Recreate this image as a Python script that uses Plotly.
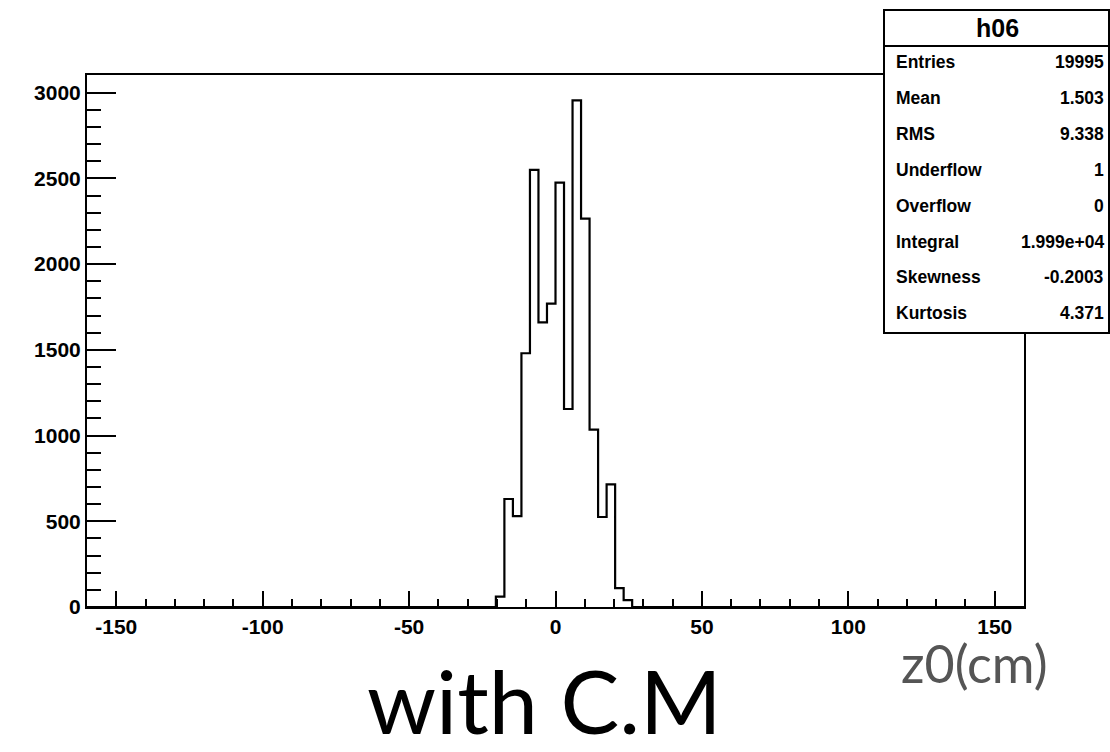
import plotly.graph_objects as go

# ---------------- data ----------------
XMIN, XMAX, NBINS = -160.0, 160.0, 110
FIRST_BIN = 48  # index of first non-empty bin
counts = [60, 630, 530, 1480, 2550, 1660, 1770, 2475, 1155, 2955, 2265, 1035, 525, 715, 110, 40]
YMAX = 3103

x_tickvals = [-150, -100, -50, 0, 50, 100, 150]
y_tickvals = [0, 500, 1000, 1500, 2000, 2500, 3000]

hist_name = "h06"
stats_labels = ["Entries", "Mean", "RMS", "Underflow", "Overflow", "Integral", "Skewness", "Kurtosis"]
stats_values = ["19995", "1.503", "9.338", "1", "0", "1.999e+04", "-0.2003", "4.371"]

x_title = "z0(cm)"
caption = "with C.M"

# ---------------- geometry helpers ----------------
W, H = 1110, 752
ML, MR, MT, MB = 87, 86, 75, 145
PW, PH = W - ML - MR, H - MT - MB


def px(X):
    return (X - ML) / PW


def py(Y):
    return (H - MB - Y) / PH


bw = (XMAX - XMIN) / NBINS
edges = [XMIN + (FIRST_BIN + i) * bw for i in range(len(counts) + 1)]
xs = [XMIN] + edges + [XMAX]
ys = [0] + counts + [0, 0]

fig = go.Figure()
fig.add_trace(go.Scatter(
    x=xs, y=ys, mode="lines", line=dict(color="black", width=2.2, shape="hv"),
    hoverinfo="skip", showlegend=False, cliponaxis=True,
))

tickfont = dict(family="Liberation Sans", size=21, color="black", weight="bold")

fig.update_xaxes(
    range=[XMIN, XMAX], showgrid=False, zeroline=False,
    showline=True, linecolor="black", linewidth=2, mirror=True,
    ticks="inside", ticklen=16, tickwidth=2, tickcolor="black",
    tickvals=x_tickvals, ticktext=[str(v) for v in x_tickvals],
    tickfont=tickfont,
    minor=dict(dtick=10, tick0=0, ticks="inside", ticklen=8, tickwidth=2, tickcolor="black", showgrid=False),
)
fig.update_yaxes(
    range=[0, YMAX], showgrid=False, zeroline=False,
    showline=True, linecolor="black", linewidth=2, mirror=True,
    ticks="inside", ticklen=29, tickwidth=2, tickcolor="black",
    tickvals=y_tickvals, ticktext=[str(v) for v in y_tickvals],
    tickfont=tickfont,
    minor=dict(dtick=100, tick0=0, ticks="inside", ticklen=14, tickwidth=2, tickcolor="black", showgrid=False),
)

shapes = [
    dict(type="rect", xref="paper", yref="paper", x0=px(884), x1=px(1109), y0=py(333), y1=py(10),
         fillcolor="white", line=dict(color="black", width=2), layer="above"),
    dict(type="line", xref="paper", yref="paper", x0=px(884), x1=px(1109), y0=py(46), y1=py(46),
         line=dict(color="black", width=2), layer="above"),
]

annotations = [
    dict(text=hist_name, xref="paper", yref="paper", x=px(997), y=py(28), showarrow=False,
         xanchor="center", yanchor="middle",
         font=dict(family="Liberation Sans", size=25, color="black", weight="bold")),
]
for i, (lab, val) in enumerate(zip(stats_labels, stats_values)):
    yy = py(62 + 35.9 * i)
    annotations.append(dict(text=lab, xref="paper", yref="paper", x=px(894), y=yy, showarrow=False,
                            xanchor="left", yanchor="middle",
                            font=dict(family="Liberation Sans", size=17.5, color="black", weight="bold")))
    annotations.append(dict(text=val, xref="paper", yref="paper", x=px(1106), y=yy, showarrow=False,
                            xanchor="right", yanchor="middle",
                            font=dict(family="Liberation Sans", size=17.5, color="black", weight="bold")))

annotations.append(dict(text=x_title, xref="paper", yref="paper", x=px(974), y=py(663), showarrow=False,
                        xanchor="center", yanchor="middle",
                        font=dict(family="Lato", size=52, color="#555555")))
annotations.append(dict(text=caption, xref="paper", yref="paper", x=px(544), y=py(700), showarrow=False,
                        xanchor="center", yanchor="middle",
                        font=dict(family="Lato", size=88, color="black")))

fig.update_layout(
    width=W, height=H, margin=dict(l=ML, r=MR, t=MT, b=MB, pad=0),
    paper_bgcolor="white", plot_bgcolor="white",
    shapes=shapes, annotations=annotations, showlegend=False,
)

fig.write_html("out.html")
